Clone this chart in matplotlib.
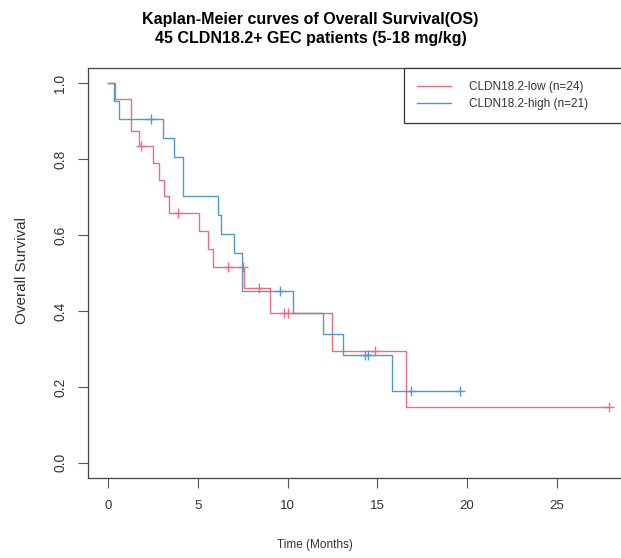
import numpy as np
import matplotlib
matplotlib.use("Agg")
import matplotlib.pyplot as plt

plt.rcParams["font.family"] = ["Liberation Sans", "DejaVu Sans"]

# follow-up times (months) and status (1 = death, 0 = censored)
low_times = [0.4, 1.3, 1.3, 1.75, 1.85, 2.5, 2.85, 3.1, 3.4, 3.9, 5.05, 5.55,
             5.85, 6.7, 7.5, 7.6, 8.4, 9.05, 9.8, 10.0, 12.5, 14.9, 16.6, 27.9]
low_events = [1, 1, 1, 1, 0, 1, 1, 1, 1, 0, 1, 1,
              1, 0, 0, 1, 0, 1, 0, 0, 1, 0, 1, 0]

high_times = [0.35, 0.6, 2.4, 3.05, 3.67, 4.2, 4.2, 6.1, 6.3, 7.0, 7.45, 7.45,
              9.6, 10.3, 12.0, 13.1, 14.3, 14.5, 15.8, 16.9, 19.6]
high_events = [1, 1, 0, 1, 1, 1, 1, 1, 1, 1, 1, 1,
               0, 1, 1, 1, 0, 0, 1, 0, 0]

labels = ["CLDN18.2-low (n=24)", "CLDN18.2-high (n=21)"]
colors = ["#E8707E", "#4F9ACB"]


def km_curve(times, events):
    """Kaplan-Meier step points plus censor positions."""
    times = np.asarray(times, dtype=float)
    events = np.asarray(events, dtype=int)
    xs, ys = [0.0], [1.0]
    surv = 1.0
    cens_x, cens_y = [], []
    for t in np.unique(times):
        at_risk = np.sum(times >= t)
        d = np.sum((times == t) & (events == 1))
        c = np.sum((times == t) & (events == 0))
        if d > 0:
            surv *= 1.0 - d / at_risk
        xs.append(t)
        ys.append(surv)
        if c > 0:
            cens_x.append(t)
            cens_y.append(surv)
    return xs, ys, cens_x, cens_y


fig = plt.figure(figsize=(6.21, 5.58), dpi=100)
ax = fig.add_axes([0.1417, 0.1434, 0.871, 0.7348])

groups = [(low_times, low_events), (high_times, high_events)]
for (t, e), lab, col in zip(groups, labels, colors):
    xs, ys, cx, cy = km_curve(t, e)
    ax.step(xs, ys, where="post", color=col, lw=1.0, label=lab)
    ax.plot(cx, cy, ls="none", marker="+", ms=7, mew=1.0, color=col)

ax.set_xlim(-1.116, 29.016)
ax.set_ylim(-0.04, 1.04)
ax.set_xticks([0, 5, 10, 15, 20, 25])
ax.set_yticks([0.0, 0.2, 0.4, 0.6, 0.8, 1.0])
ax.set_yticklabels(["0.0", "0.2", "0.4", "0.6", "0.8", "1.0"], rotation=90, va="center")
ax.tick_params(direction="out", length=7, width=0.8, colors="#555555",
               labelsize=9.5, labelcolor="#333333", pad=9)
ax.tick_params(axis="y", labelsize=10, pad=8)
for sp in ax.spines.values():
    sp.set_color("#444444")
    sp.set_linewidth(0.9)

# legend box stretched to the right edge like R's topright legend
leg = ax.legend(loc="upper left", bbox_to_anchor=(0.584, 0.8634, 0.416, 0.1366),
                mode="expand", borderaxespad=0, fancybox=False,
                edgecolor="#333333", fontsize=8.5, handlelength=2.9,
                handletextpad=1.5, borderpad=1.1, labelspacing=0.45, framealpha=1)
leg.get_frame().set_linewidth(0.9)
for txt in leg.get_texts():
    txt.set_color("#333333")

fig.text(0.5, 1 - 29 / 558,
         "Kaplan-Meier curves of Overall Survival(OS)\n45 CLDN18.2+ GEC patients (5-18 mg/kg)",
         ha="center", va="center", fontsize=11.5, fontweight="bold", linespacing=1.4)
fig.text(0.507, 13 / 558, "Time (Months)", ha="center", va="center",
         fontsize=8.5, color="#333333")
fig.text(0.035, 0.516, "Overall Survival", ha="center", va="center",
         rotation=90, fontsize=11, color="#333333")

fig.savefig("out.png", dpi=100)
